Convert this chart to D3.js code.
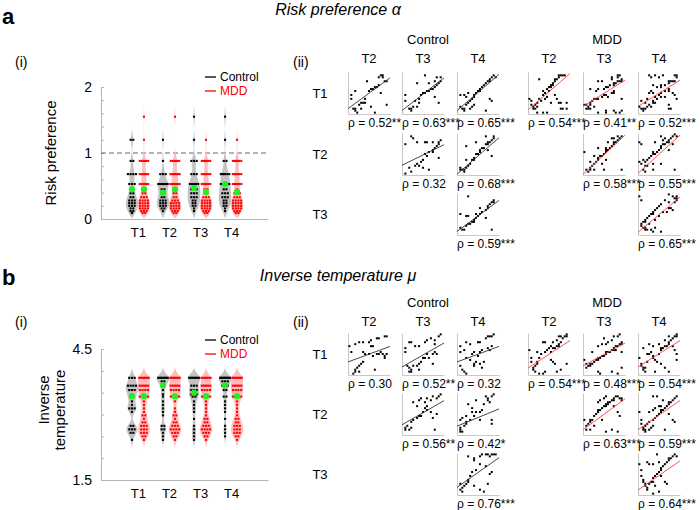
<!DOCTYPE html>
<html><head><meta charset="utf-8">
<script src="https://cdn.jsdelivr.net/npm/d3@7"></script>
<style>body{margin:0;background:#fff}svg{font-family:Arial,"Liberation Sans",sans-serif}</style>
</head><body><svg id="c" width="700" height="510"></svg>
<script>
// ---------------- DATA ----------------
const timepoints = ["T1","T2","T3","T4"];
const groups = ["Control","MDD"];

// (i) risk preference: discrete parameter levels and subject counts per level
const riskLevels = [1.55,1.2,0.88,0.68,0.53,0.45,0.39,0.33,0.28,0.24,0.2,0.16,0.12,0.09];
const riskCountsControl = [
  [0,2,2,4,3,1,2,2,3,3,3,2,2,1],
  [0,1,1,3,7,2,2,2,3,3,3,2,1,0],
  [1,1,3,3,5,3,3,3,2,2,2,1,1,0],
  [1,1,2,5,5,2,3,3,2,2,2,1,1,0]];
const riskCountsMDD = [
  [1,1,5,5,5,2,2,3,4,4,4,4,3,2],
  [1,0,5,6,6,2,2,2,3,4,4,4,3,2],
  [0,1,5,5,5,2,2,3,4,4,4,4,3,2],
  [0,1,5,5,5,1,3,3,4,4,4,4,3,2]];
const riskCentreControl = [0.45,0.40,0.47,0.53];
const riskCentreMDD = [0.45,0.45,0.41,0.41];

// (i) inverse temperature
const invLevels = [3.84,3.76,3.66,3.56,3.46,3.41,3.3,3.22,3.14,3.06,2.98,2.9,2.82,2.74,2.66,2.58,2.5,2.42];
const invCountsControl = [
  [3,0,4,3,1,2,1,1,3,1,0,0,0,2,3,2,0,1],
  [8,2,2,1,1,1,1,1,1,1,1,0,0,2,2,1,1,1],
  [8,0,3,3,3,2,1,1,1,1,0,1,0,1,1,1,1,1],
  [9,3,3,2,0,2,1,1,1,1,0,1,0,1,1,1,1,0]];
const invCountsMDD = [
  [7,0,5,4,0,5,1,1,1,1,2,1,2,3,3,3,2,1],
  [7,0,5,4,0,5,1,0,1,1,2,1,2,3,4,3,2,1],
  [6,0,5,4,0,4,1,1,1,1,1,2,2,3,4,3,2,1],
  [7,0,5,4,0,5,1,1,1,1,1,2,2,3,3,3,2,1]];
const invCentreControl = [3.42,3.67,3.50,3.67];
const invCentreMDD = [3.42,3.42,3.42,3.42];

// (ii) scatter pairs (rank units 0-20), order: T1-T2, T1-T3, T1-T4, T2-T3, T2-T4, T3-T4
const riskCtrl_1_2 = [[1,9],[1,7],[3,11],[2,2],[3,1],[3,2],[4,0],[5,4],[6,5],[7,5],[8,5],[8,7],[9,16],[10,11],[11,12],[12,12],[13,13],[14,13],[15,14],[15,18],[16,19],[17,19],[17,18],[18,16],[19,16],[16,10],[11,3],[13,0],[19,4],[6,2]];
const riskCtrl_1_3 = [[1,9],[1,6],[7,15],[6,6],[8,5],[3,2],[4,1],[4,2],[5,3],[7,3],[8,7],[9,9],[10,10],[11,10],[12,11],[13,11],[14,12],[15,12],[16,13],[17,14],[18,15],[19,16],[19,18],[17,18],[16,16],[11,19],[16,8],[18,5],[13,15]];
const riskCtrl_1_4 = [[1,9],[3,9],[4,8],[5,10],[1,3],[2,2],[3,1],[3,2],[4,4],[5,5],[6,6],[7,7],[8,8],[8,9],[9,10],[10,11],[11,11],[11,12],[12,13],[13,14],[14,15],[15,16],[16,16],[16,17],[17,18],[18,19],[19,18],[14,1],[16,7],[17,6],[7,3],[8,4],[6,2]];
const riskCtrl_2_3 = [[1,15],[4,19],[5,18],[7,16],[1,0],[3,3],[4,1],[6,4],[7,5],[8,4],[9,6],[10,7],[11,10],[12,9],[13,11],[15,11],[15,12],[16,13],[17,14],[18,15],[18,16],[19,17],[11,16],[13,2],[10,3],[15,16],[18,8],[12,16]];
const riskCtrl_2_4 = [[4,14],[1,3],[1,2],[2,2],[3,1],[3,2],[4,3],[5,4],[6,5],[7,7],[8,7],[8,8],[9,10],[10,10],[11,11],[11,12],[12,13],[13,13],[14,15],[15,15],[15,16],[16,16],[17,17],[18,18],[18,19],[14,19],[17,9],[15,12],[9,16],[4,7]];
const riskCtrl_3_4 = [[5,19],[1,10],[4,9],[5,9],[1,3],[2,2],[3,2],[4,4],[5,5],[7,6],[8,6],[8,7],[9,8],[10,9],[11,10],[12,11],[14,12],[15,13],[15,14],[16,15],[17,16],[18,16],[18,17],[14,8],[17,2],[6,5],[9,10],[11,13]];
const riskMdd_1_2 = [[0,7],[1,6],[1,4],[2,2],[2,3],[3,2],[3,4],[4,3],[4,5],[5,7],[5,17],[6,6],[7,11],[7,9],[8,7],[8,10],[9,8],[9,12],[10,11],[10,13],[11,13],[11,14],[12,14],[12,15],[13,16],[13,17],[14,17],[15,18],[15,19],[16,19],[17,19],[18,19],[13,9],[14,7],[15,5],[16,5],[16,2],[17,2],[19,5],[19,2],[7,0],[9,0],[4,0],[11,5]];
const riskMdd_1_3 = [[7,16],[9,16],[14,17],[14,18],[17,19],[18,19],[17,18],[3,12],[6,11],[7,12],[10,12],[11,13],[12,13],[13,14],[15,15],[15,14],[16,15],[17,16],[18,16],[19,16],[19,17],[0,4],[1,4],[2,3],[3,4],[3,5],[4,6],[5,7],[6,7],[7,7],[9,8],[10,9],[11,9],[12,8],[14,10],[15,10],[15,11],[1,2],[2,2],[3,2],[5,3],[7,0],[11,0],[11,1],[15,1],[16,0],[18,0],[19,1],[19,7]];
const riskMdd_1_4 = [[5,19],[6,18],[8,19],[10,18],[12,19],[7,14],[9,13],[11,13],[11,14],[13,14],[15,15],[15,16],[16,16],[17,16],[18,16],[19,18],[19,19],[18,19],[5,10],[6,11],[7,10],[8,8],[10,9],[11,10],[13,11],[15,12],[15,11],[17,10],[18,9],[19,7],[0,3],[1,2],[2,1],[2,2],[3,2],[4,3],[5,4],[6,3],[7,5],[7,6],[8,5],[9,7],[11,8],[13,8],[15,4],[15,2],[16,2],[1,6],[3,5],[4,7]];
const riskMdd_2_3 = [[0,11],[1,2],[2,1],[3,2],[3,3],[4,4],[5,5],[6,6],[7,7],[7,8],[8,9],[9,9],[10,10],[11,11],[11,12],[12,12],[13,13],[14,14],[15,15],[15,16],[16,16],[17,17],[18,18],[19,19],[14,18],[15,18],[17,19],[12,16],[11,13],[5,9],[7,13],[11,7],[19,2],[10,2],[5,2],[3,6],[9,5]];
const riskMdd_2_4 = [[0,16],[1,15],[0,6],[1,5],[2,7],[3,4],[3,6],[4,7],[5,8],[6,9],[7,10],[7,11],[8,10],[9,11],[10,12],[11,13],[11,14],[12,15],[13,15],[14,16],[15,16],[15,17],[16,18],[17,19],[18,20],[19,19],[11,19],[12,17],[13,18],[8,16],[15,12],[17,15],[18,2],[7,2],[3,1],[2,2],[4,4],[7,5],[11,5]];
const riskMdd_3_4 = [[0,19],[1,17],[15,20],[17,19],[18,18],[19,19],[19,18],[13,17],[15,16],[11,15],[10,14],[9,13],[8,12],[7,11],[7,10],[6,10],[5,9],[4,8],[3,7],[3,6],[2,6],[1,5],[1,4],[2,3],[3,2],[4,2],[6,2],[7,1],[11,1],[8,7],[10,9],[12,11],[14,11],[15,13],[16,13],[17,12],[18,16],[19,17],[3,3],[5,5],[8,3]];

const invCtrl_1_2 = [[0,14],[1,11],[3,15],[5,16],[7,16],[10,16],[11,17],[12,14],[14,18],[15,18],[18,19],[19,19],[11,14],[7,11],[8,10],[10,10],[12,9],[14,10],[15,10],[16,11],[17,10],[18,8],[18,9],[19,10],[3,1],[3,2],[4,3],[5,4],[6,5],[7,6],[2,0],[13,2],[5,1]];
const invCtrl_1_3 = [[1,13],[1,11],[3,16],[4,16],[6,14],[8,14],[11,16],[12,17],[14,18],[16,17],[18,19],[19,20],[16,15],[10,8],[11,8],[12,10],[13,8],[15,10],[16,11],[17,10],[2,4],[3,3],[4,2],[4,1],[5,4],[7,4],[8,5],[9,6],[15,5],[3,1],[8,2]];
const invCtrl_1_4 = [[1,14],[1,11],[3,12],[4,16],[6,15],[7,10],[8,11],[10,16],[11,16],[14,18],[15,19],[16,19],[17,19],[18,20],[15,13],[16,12],[17,14],[10,9],[11,11],[12,12],[13,6],[12,3],[9,6],[8,5],[6,7],[4,8],[1,4],[2,2],[3,1],[4,0],[8,4],[11,5]];
const invCtrl_2_3 = [[5,16],[7,14],[8,17],[9,18],[11,16],[12,18],[14,17],[15,19],[17,18],[18,19],[19,20],[12,14],[11,13],[10,11],[8,9],[7,8],[5,7],[4,6],[2,4],[1,3],[1,2],[3,2],[4,3],[9,9],[14,11],[15,8],[17,10],[16,2],[12,12]];
const invCtrl_2_4 = [[5,15],[7,13],[9,11],[11,11],[12,12],[14,19],[15,18],[15,17],[16,16],[17,19],[18,20],[13,15],[9,17],[4,9],[7,11],[8,9],[2,8],[1,7],[1,3],[1,2],[3,4],[4,6],[6,7],[11,7],[17,7],[17,5],[1,1],[2,1],[4,5]];
const invCtrl_3_4 = [[5,19],[8,17],[8,18],[11,19],[12,20],[14,20],[15,20],[16,19],[17,20],[18,20],[19,20],[14,14],[11,15],[9,12],[7,11],[6,9],[5,7],[5,6],[4,5],[3,4],[2,3],[1,2],[2,1],[1,5],[15,5],[16,10],[17,11],[13,1],[11,2],[8,4]];
const invMdd_1_2 = [[0,12],[1,8],[1,6],[2,3],[2,2],[3,1],[3,4],[4,5],[4,6],[5,8],[6,10],[7,16],[8,16],[8,11],[9,12],[10,13],[11,14],[11,11],[12,13],[13,13],[14,14],[15,15],[15,14],[16,16],[17,18],[18,19],[19,20],[19,19],[15,19],[16,19],[14,17],[12,16],[11,7],[12,6],[13,5],[14,1],[16,2],[19,5],[7,0],[8,1],[5,0],[4,11]];
const invMdd_1_3 = [[0,7],[1,5],[1,3],[2,4],[3,4],[3,5],[4,5],[5,6],[6,7],[7,7],[7,8],[8,8],[9,9],[10,9],[11,10],[11,11],[12,11],[13,11],[14,12],[15,12],[15,13],[16,14],[17,14],[18,15],[19,15],[19,16],[7,14],[9,15],[11,15],[12,16],[14,17],[15,19],[17,19],[18,20],[10,18],[7,1],[8,0],[14,1],[17,0],[19,3],[4,11],[16,12],[19,11]];
const invMdd_1_4 = [[0,8],[1,5],[1,4],[2,3],[2,2],[3,1],[3,3],[4,6],[4,10],[5,10],[6,11],[7,8],[7,9],[8,7],[9,6],[10,10],[11,12],[11,13],[12,13],[13,14],[14,14],[15,15],[15,16],[16,17],[17,18],[18,19],[19,20],[19,19],[5,15],[7,14],[10,15],[13,17],[15,19],[17,14],[18,12],[19,10],[19,7],[11,5],[13,3],[15,1],[8,1],[2,13]];
const invMdd_2_3 = [[0,7],[1,4],[1,2],[2,5],[3,6],[3,7],[4,7],[5,9],[6,10],[7,11],[7,12],[8,12],[9,13],[10,14],[11,14],[11,15],[12,15],[13,16],[14,17],[15,18],[15,17],[16,19],[17,19],[18,18],[19,18],[19,17],[7,16],[8,17],[10,18],[11,19],[12,16],[15,14],[17,11],[18,9],[11,1],[14,2],[17,1],[3,2],[5,4],[9,7]];
const invMdd_2_4 = [[0,11],[1,7],[1,5],[2,2],[2,3],[3,2],[3,4],[4,5],[5,6],[6,3],[7,4],[7,7],[8,8],[9,9],[10,10],[11,11],[11,12],[12,12],[13,13],[14,14],[15,15],[15,16],[16,16],[17,17],[18,18],[19,19],[5,11],[7,12],[8,13],[10,14],[11,14],[12,17],[9,19],[7,19],[15,10],[17,7],[18,6],[5,2],[3,1],[13,2]];
const invMdd_3_4 = [[0,15],[1,12],[1,9],[2,7],[2,6],[3,5],[3,4],[4,3],[4,2],[5,5],[6,6],[7,6],[7,8],[8,9],[9,10],[10,11],[11,12],[11,13],[12,14],[13,15],[14,16],[15,17],[15,18],[16,18],[17,19],[18,20],[19,19],[11,9],[13,6],[14,5],[8,4],[10,1],[7,0],[4,16],[5,15],[7,15],[10,16],[9,20]];

// fitted lines: value at rank 0 and rank 20
const riskFitControl = [[2.5,17.2],[1.6,17.2],[1.6,18.9],[4.6,14.4],[0.3,17.7],[1.6,16.4]];
const riskFitMDD = [[2,19.3],[3.6,16.1],[3.6,16.1],[0.3,18.9],[0.8,18.9],[1.3,18]];
const invFitControl = [[6.2,13.6],[3.8,15.2],[6.2,13.6],[4.9,16.4],[4.1,12.3],[3.7,17.8]];
const invFitMDD = [[3.3,16.4],[4.3,15.2],[3.8,16.4],[2.5,17.2],[2.5,16.4],[2.3,16.2]];

const riskRhoControl = ["0.52**","0.63***","0.65***","0.32","0.68***","0.59***"];
const riskRhoMDD = ["0.54***","0.41**","0.52***","0.58***","0.55***","0.65***"];
const invRhoControl = ["0.30","0.52**","0.32","0.56**","0.42*","0.76***"];
const invRhoMDD = ["0.54***","0.48***","0.54***","0.63***","0.59***","0.64***"];

// ---------------- DRAWING ----------------
const svg = d3.select("#c");
const FAINT = "#b4b4b4";
function txt(x,y,s,o={}){
  return svg.append("text").attr("x",x).attr("y",y).text(s)
    .attr("font-size",o.size||13).attr("text-anchor",o.anchor||"start")
    .attr("fill",o.fill||"#000").attr("font-style",o.style||null).attr("font-weight",o.weight||null);
}

function violinPanel(cfg){
  const y = cfg.y;
  const x = d3.scalePoint().domain(timepoints).range([101,268]).padding(1.19);
  const base = y.range()[0];
  const ya = svg.append("g").attr("transform","translate(101,0)")
    .call(d3.axisLeft(y).tickValues(cfg.tickVals).tickSize(-3).tickSizeOuter(0).tickPadding(9).tickFormat(cfg.tickFmt));
  const xa = svg.append("g").attr("transform",`translate(0,${base})`)
    .call(d3.axisBottom(x).tickSize(0).tickSizeOuter(0).tickPadding(9));
  [ya,xa].forEach(a=>{
    a.select(".domain").attr("stroke",FAINT);
    a.selectAll(".tick line").attr("stroke",FAINT);
    a.selectAll("text").attr("font-size",14).attr("font-family",null).attr("fill","#000");
  });
  xa.selectAll("text").attr("font-size",13);
  if(cfg.dashAt!==undefined){
    svg.append("line").attr("x1",101).attr("x2",268).attr("y1",y(cfg.dashAt)).attr("y2",y(cfg.dashAt))
      .attr("stroke","#666").attr("stroke-dasharray","5,3").attr("stroke-width",1);
  }
  const fills = ["#c3c3c3","#ffbdbd"], dots = ["#000","#ff0000"];
  const counts = [cfg.ctrlCounts, cfg.mddCounts], centres=[cfg.ctrlCentre, cfg.mddCentre];
  const layers = {v:svg.append("g"), p:svg.append("g"), c:svg.append("g")};
  timepoints.forEach((t,i)=>{
    groups.forEach((gname,gi)=>{
      const cx = x(t) + (gi ? 6 : -6);
      const cnt = counts[gi][i];
      const vals = [];
      cfg.levels.forEach((l,k)=>{ for(let j=0;j<cnt[k];j++) vals.push(l); });
      const bw = cfg.bw;
      const lo = Math.max(cfg.floor, d3.min(vals)-2.6*bw), hi = d3.max(vals)+2.6*bw;
      const grid = d3.range(61).map(k=>{
        const yy = lo+(hi-lo)*k/60;
        let s=0; vals.forEach(v=>{ s+=Math.exp(-0.5*((yy-v)/bw)**2); });
        return [yy,s];
      });
      grid[0][1]=0; grid[grid.length-1][1]=0;
      const m = d3.max(grid,d=>d[1]);
      const area = d3.area().curve(d3.curveBasis)
        .y(d=>y(d[0])).x0(d=>cx-d[1]/m*6.3).x1(d=>cx+d[1]/m*6.3);
      layers.v.append("path").attr("d",area(grid)).attr("fill",fills[gi]);
      cfg.levels.forEach((l,k)=>{
        const c = cnt[k]; if(!c) return;
        const sp = c >= 5 ? Math.min(2.1, 11/c) : 2.7;
        for(let j=0;j<c;j++){
          layers.p.append("rect").attr("x",cx+(j-(c-1)/2)*sp-1.05).attr("y",y(l)-1.05)
            .attr("width",2.1).attr("height",2.1).attr("fill",dots[gi]);
        }
      });
      layers.c.append("circle").attr("cx",cx).attr("cy",y(centres[gi][i])).attr("r",3.1).attr("fill","#22ee22");
    });
  });
  const ly = cfg.legendY;
  [["Control","#000"],["MDD","#ff0000"]].forEach((d,k)=>{
    svg.append("line").attr("x1",205).attr("x2",216).attr("y1",ly+k*14).attr("y2",ly+k*14).attr("stroke",d[1]).attr("stroke-width",1.3);
    txt(220,ly+k*14+4.3,d[0],{size:12,fill:d[1]});
  });
}

const pairIdx = [[0,0],[0,1],[0,2],[1,1],[1,2],[2,2]];
const BOX = 42;
function scatterBlock(rowsTop, colsLeft, panels, fits, rhos, lineColor){
  panels.forEach((pts,k)=>{
    const [r,c] = pairIdx[k];
    const x0 = colsLeft[c], y0 = rowsTop[r];
    const sx = d3.scaleLinear([-0.7,20.7],[x0,x0+BOX]);
    const sy = d3.scaleLinear([-0.7,20.7],[y0+BOX,y0]);
    const g = svg.append("g");
    const al = g.append("g").attr("transform",`translate(${x0},0)`).call(d3.axisLeft(sy).tickValues([]).tickSizeOuter(0));
    const ab = g.append("g").attr("transform",`translate(0,${y0+BOX})`).call(d3.axisBottom(sx).tickValues([]).tickSizeOuter(0));
    [al,ab].forEach(a=>a.select(".domain").attr("stroke","#c8c8c8"));
    g.append("line").attr("x1",sx(0)).attr("y1",sy(0)).attr("x2",sx(20)).attr("y2",sy(20))
      .attr("stroke","#d6d6d6").attr("stroke-dasharray","1,2").attr("stroke-width",0.8);
    g.selectAll("rect.pt").data(pts).join("rect").attr("class","pt")
      .attr("x",d=>sx(d[0])-1).attr("y",d=>sy(d[1])-1).attr("width",2).attr("height",2).attr("fill","#000");
    const f = fits[k];
    g.append("line").attr("x1",sx(-0.7)).attr("x2",sx(20.7))
      .attr("y1",sy(f[0]+(f[1]-f[0])*(-0.7/20))).attr("y2",sy(f[0]+(f[1]-f[0])*(20.7/20)))
      .attr("stroke",lineColor).attr("stroke-width",0.9);
    txt(x0, y0+BOX+13, "ρ = "+rhos[k], {size:12});
  });
}

function gridLabels(rowsTop, headY, ctrlCols, mddCols){
  txt(428, headY, "Control", {size:13, anchor:"middle"});
  txt(607, headY, "MDD", {size:13, anchor:"middle"});
  ["T2","T3","T4"].forEach((t,c)=>{
    txt(ctrlCols[c]+BOX/2, headY+19, t, {size:13, anchor:"middle"});
    txt(mddCols[c]+BOX/2, headY+19, t, {size:13, anchor:"middle"});
  });
  ["T1","T2","T3"].forEach((t,r)=>{
    txt(320, rowsTop[r]+BOX/2+5, t, {size:13, anchor:"middle"});
  });
}

const ctrlCols = [348,402,457], mddCols = [528,583,638];

// ---- panel a ----
txt(2,24,"a",{size:22,weight:"bold"});
txt(338,15,"Risk preference α",{size:16,style:"italic",anchor:"middle"});
txt(15,67,"(i)",{size:14});
txt(293,67,"(ii)",{size:14});
svg.append("text").attr("transform","rotate(-90)").attr("x",-153).attr("y",56)
  .attr("text-anchor","middle").attr("font-size",15).text("Risk preference");
violinPanel({
  y: d3.scaleLinear([0,2],[219,87]),
  tickVals: d3.range(0,2.001,0.2), tickFmt: d=>Math.abs(d-Math.round(d))<1e-6 ? d3.format("d")(d) : "",
  levels: riskLevels, ctrlCounts: riskCountsControl, mddCounts: riskCountsMDD,
  ctrlCentre: riskCentreControl, mddCentre: riskCentreMDD,
  bw: 0.075, floor: 0.01, dashAt: 1, legendY: 77
});
const rowsA = [72,133,193];
gridLabels(rowsA, 44, ctrlCols, mddCols);
scatterBlock(rowsA, ctrlCols, [riskCtrl_1_2,riskCtrl_1_3,riskCtrl_1_4,riskCtrl_2_3,riskCtrl_2_4,riskCtrl_3_4], riskFitControl, riskRhoControl, "#333");
scatterBlock(rowsA, mddCols, [riskMdd_1_2,riskMdd_1_3,riskMdd_1_4,riskMdd_2_3,riskMdd_2_4,riskMdd_3_4], riskFitMDD, riskRhoMDD, "#ff4040");

// ---- panel b ----
txt(2,285,"b",{size:22,weight:"bold"});
txt(338,281,"Inverse temperature μ",{size:16,style:"italic",anchor:"middle"});
txt(15,327,"(i)",{size:14});
txt(293,327,"(ii)",{size:14});
const yl = svg.append("text").attr("transform","rotate(-90)").attr("text-anchor","middle").attr("font-size",15);
yl.append("tspan").attr("x",-400).attr("y",49).text("Inverse");
yl.append("tspan").attr("x",-410).attr("y",65).text("temperature");
violinPanel({
  y: d3.scaleLinear([1.5,4.5],[480,349]),
  tickVals: d3.range(1.5,4.501,0.5), tickFmt: d=>(Math.abs(d-1.5)<1e-6||Math.abs(d-4.5)<1e-6) ? d3.format(".1f")(d) : "",
  levels: invLevels, ctrlCounts: invCountsControl, mddCounts: invCountsMDD,
  ctrlCentre: invCentreControl, mddCentre: invCentreMDD,
  bw: 0.09, floor: 1.5, legendY: 340
});
const rowsB = [333,393,453];
gridLabels(rowsB, 307, ctrlCols, mddCols);
scatterBlock(rowsB, ctrlCols, [invCtrl_1_2,invCtrl_1_3,invCtrl_1_4,invCtrl_2_3,invCtrl_2_4,invCtrl_3_4], invFitControl, invRhoControl, "#333");
scatterBlock(rowsB, mddCols, [invMdd_1_2,invMdd_1_3,invMdd_1_4,invMdd_2_3,invMdd_2_4,invMdd_3_4], invFitMDD, invRhoMDD, "#ff4040");
</script></body></html>
